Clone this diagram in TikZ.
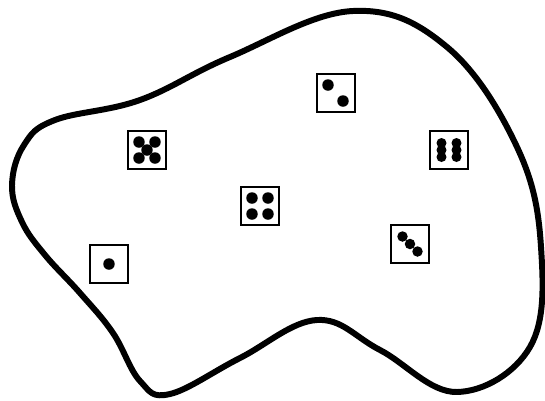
\documentclass[tikz,border=0pt]{standalone}
\usepackage{tikz}
\usetikzlibrary{positioning}

\begin{document}
\begin{tikzpicture}[
  x=0.02cm, y=-0.02cm,
  blob/.style={line width=3.4pt, line join=round},
  die/.style={draw, line width=1pt, minimum size=0.75cm, inner sep=0pt},
  pip/.style={fill=black},
]
  \useasboundingbox (0,0) rectangle (545,400);

  % the set
  \draw[blob] plot[smooth cycle, tension=0.65] coordinates {
    (12,185) (22,222) (45,255) (80,293) (113,333) (140,381) (170,394)
    (240,358) (317,320) (380,350) (457,392) (530,347) (541,247)
    (517,147) (447,47) (353,11) (230,57) (140,100) (55,120) (24,145)};

  % the dice
  \node[die] (one)   at (109,264) {};
  \node[die] (two)   at (336,93)  {};
  \node[die] (three) at (410,244) {};
  \node[die] (four)  at (260,206) {};
  \node[die] (five)  at (147,150) {};
  \node[die] (six)   at (449,150) {};

  \fill[pip] (one) circle[radius=0.115cm];
  \foreach \dx/\dy in {-8/-8, 7/8}
    \fill[pip] (two) ++(\dx,\dy) circle[radius=0.115cm];
  \foreach \dx/\dy in {-7.5/-7.5, 0/0, 7.5/7.5}
    \fill[pip] (three) ++(\dx,\dy) circle[radius=0.105cm];
  \foreach \dx/\dy in {-8/-8, 8/-8, -8/8, 8/8}
    \fill[pip] (four) ++(\dx,\dy) circle[radius=0.115cm];
  \foreach \dx/\dy in {-8/-8, 8/-8, 0/0, -8/8, 8/8}
    \fill[pip] (five) ++(\dx,\dy) circle[radius=0.115cm];
  \foreach \dx/\dy in {-7.5/-7, 7.5/-7, -7.5/0, 7.5/0, -7.5/7, 7.5/7}
    \fill[pip] (six) ++(\dx,\dy) circle[radius=0.1cm];
\end{tikzpicture}
\end{document}
